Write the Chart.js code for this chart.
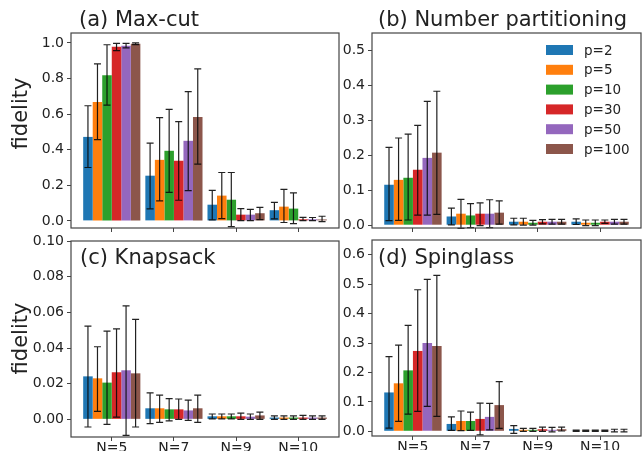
<!DOCTYPE html>
<html>
<head>
<meta charset="utf-8">
<script src="https://cdn.jsdelivr.net/npm/chart.js@4.4.1/dist/chart.umd.min.js"></script>
<style>
  html, body { margin: 0; padding: 0; background: #fff; }
  #fig { position: relative; width: 644px; height: 451px; }
  #fig canvas { position: absolute; left: 0; top: 0; }
</style>
</head>
<body>
<div id="fig">
  <canvas id="panelA" width="644" height="451"></canvas>
  <canvas id="panelB" width="644" height="451"></canvas>
  <canvas id="panelC" width="644" height="451"></canvas>
  <canvas id="panelD" width="644" height="451"></canvas>
</div>
<script>
const nLabels = ['N=5', 'N=7', 'N=9', 'N=10'];
const pLabels = ['p=2', 'p=5', 'p=10', 'p=30', 'p=50', 'p=100'];
const colors = ['#1f77b4', '#ff7f0e', '#2ca02c', '#d62728', '#9467bd', '#8c564b'];

// rows = p=2..p=100, columns = N=5, N=7, N=9, N=10
const maxcutMean = [
  [0.472, 0.254, 0.091, 0.060],
  [0.668, 0.343, 0.142, 0.080],
  [0.819, 0.394, 0.119, 0.069],
  [0.979, 0.338, 0.035, 0.009],
  [0.985, 0.450, 0.035, 0.009],
  [0.995, 0.584, 0.043, 0.008]
];
const maxcutLow = [
  [0.300, 0.067, 0.006, 0.011],
  [0.457, 0.112, 0.013, -0.009],
  [0.651, 0.160, -0.032, -0.015],
  [0.957, 0.116, 0.002, 0.002],
  [0.972, 0.170, 0.002, 0.002],
  [0.991, 0.319, 0.007, -0.004]
];
const maxcutHigh = [
  [0.647, 0.437, 0.172, 0.104],
  [0.882, 0.580, 0.272, 0.177],
  [0.990, 0.627, 0.272, 0.157],
  [0.998, 0.558, 0.069, 0.020],
  [0.998, 0.726, 0.065, 0.019],
  [1.000, 0.854, 0.076, 0.026]
];

const partitionMean = [
  [0.116, 0.025, 0.010, 0.010],
  [0.130, 0.033, 0.010, 0.007],
  [0.136, 0.028, 0.007, 0.007],
  [0.159, 0.033, 0.010, 0.010],
  [0.193, 0.033, 0.010, 0.010],
  [0.208, 0.036, 0.010, 0.010]
];
const partitionLow = [
  [0.013, 0.001, 0.001, 0.002],
  [0.014, -0.009, 0.000, -0.001],
  [0.015, -0.007, 0.000, -0.001],
  [0.029, -0.001, 0.004, 0.005],
  [0.029, -0.007, 0.003, 0.003],
  [0.031, 0.003, 0.003, 0.003]
];
const partitionHigh = [
  [0.223, 0.049, 0.020, 0.018],
  [0.250, 0.074, 0.020, 0.015],
  [0.261, 0.062, 0.014, 0.015],
  [0.286, 0.064, 0.016, 0.015],
  [0.355, 0.073, 0.017, 0.017],
  [0.384, 0.070, 0.017, 0.017]
];

const knapsackMean = [
  [0.0241, 0.0062, 0.0017, 0.0010],
  [0.0230, 0.0062, 0.0017, 0.0010],
  [0.0206, 0.0056, 0.0017, 0.0010],
  [0.0264, 0.0056, 0.0017, 0.0010],
  [0.0275, 0.0050, 0.0015, 0.0010],
  [0.0258, 0.0062, 0.0022, 0.0010]
];
const knapsackLow = [
  [-0.0043, -0.0024, 0.0003, 0.0000],
  [0.0045, -0.0017, 0.0003, 0.0000],
  [-0.0028, -0.0009, 0.0003, 0.0000],
  [0.0013, 0.0000, 0.0000, 0.0000],
  [-0.0090, -0.0006, 0.0000, 0.0000],
  [-0.0043, -0.0017, 0.0000, 0.0000]
];
const knapsackHigh = [
  [0.0523, 0.0148, 0.0030, 0.0020],
  [0.0407, 0.0136, 0.0030, 0.0020],
  [0.0495, 0.0116, 0.0030, 0.0020],
  [0.0507, 0.0114, 0.0035, 0.0022],
  [0.0636, 0.0108, 0.0030, 0.0020],
  [0.0560, 0.0136, 0.0040, 0.0020]
];

const spinglassMean = [
  [0.132, 0.025, 0.008, 0.002],
  [0.163, 0.035, 0.005, 0.002],
  [0.207, 0.035, 0.005, 0.002],
  [0.273, 0.042, 0.007, 0.002],
  [0.300, 0.049, 0.005, 0.002],
  [0.290, 0.089, 0.007, 0.002]
];
const spinglassLow = [
  [0.011, 0.003, -0.007, 0.000],
  [0.034, 0.002, 0.000, 0.000],
  [0.058, 0.003, 0.000, 0.000],
  [0.068, -0.012, 0.000, 0.000],
  [0.085, 0.005, -0.002, -0.002],
  [0.051, 0.010, 0.001, -0.002]
];
const spinglassHigh = [
  [0.254, 0.049, 0.019, 0.004],
  [0.293, 0.069, 0.010, 0.004],
  [0.360, 0.065, 0.010, 0.004],
  [0.481, 0.096, 0.014, 0.004],
  [0.516, 0.095, 0.013, 0.007],
  [0.530, 0.169, 0.014, 0.007]
];

const maxcutTicks = [0, 0.2, 0.4, 0.6, 0.8, 1.0];
const partitionTicks = [0, 0.1, 0.2, 0.3, 0.4, 0.5];
const knapsackTicks = [0, 0.02, 0.04, 0.06, 0.08, 0.10];
const spinglassTicks = [0, 0.1, 0.2, 0.3, 0.4, 0.5, 0.6];

Chart.defaults.font.family = "'DejaVu Sans', sans-serif";
Chart.defaults.color = '#222';

const FIG_W = 644, FIG_H = 451;
const inkColor = '#222';
const frameColor = '#444';

function makePanel(id, o) {
  const yW = o.yWidth;
  const xH = o.xLabels ? 14 : 4;

  const datasets = pLabels.map((p, i) => ({
    label: p,
    data: o.mean[i].map((v, j) => ({ x: j, y: v })),
    backgroundColor: colors[i],
    borderWidth: 0,
    categoryPercentage: 0.92,
    barPercentage: 1.0
  }));

  const errorBars = {
    id: 'errorBars',
    afterDatasetsDraw(chart) {
      const ctx = chart.ctx, ys = chart.scales.y;
      ctx.save();
      ctx.strokeStyle = 'rgba(10,10,10,0.9)';
      ctx.lineWidth = 1.2;
      chart.data.datasets.forEach((ds, i) => {
        chart.getDatasetMeta(i).data.forEach((bar, j) => {
          const top = ys.getPixelForValue(o.high[i][j]);
          const bot = ys.getPixelForValue(o.low[i][j]);
          ctx.beginPath();
          ctx.moveTo(bar.x, top); ctx.lineTo(bar.x, bot);
          ctx.moveTo(bar.x - 3.5, top); ctx.lineTo(bar.x + 3.5, top);
          ctx.moveTo(bar.x - 3.5, bot); ctx.lineTo(bar.x + 3.5, bot);
          ctx.stroke();
        });
      });
      ctx.restore();
    }
  };

  const frame = {
    id: 'frame',
    afterDraw(chart) {
      const a = chart.chartArea, ctx = chart.ctx;
      ctx.save();
      ctx.strokeStyle = frameColor;
      ctx.lineWidth = 1.2;
      ctx.strokeRect(a.left, a.top, a.right - a.left, a.bottom - a.top);
      ctx.restore();
    }
  };

  const texts = {
    id: 'texts',
    afterDraw(chart) {
      const ctx = chart.ctx;
      ctx.save();
      ctx.fillStyle = inkColor;
      o.texts.forEach(t => {
        ctx.save();
        ctx.font = t.size + "px 'DejaVu Sans', sans-serif";
        ctx.textAlign = t.align || 'left';
        ctx.textBaseline = t.baseline || 'alphabetic';
        ctx.translate(t.x, t.y);
        if (t.rotate) ctx.rotate(t.rotate);
        ctx.fillText(t.text, 0, 0);
        ctx.restore();
      });
      if (o.legend) {
        const L = o.legend;
        ctx.font = L.size + "px 'DejaVu Sans', sans-serif";
        ctx.textBaseline = 'middle';
        ctx.textAlign = 'left';
        chart.data.datasets.forEach((ds, i) => {
          const cy = L.y + i * L.step;
          ctx.fillStyle = ds.backgroundColor;
          ctx.fillRect(L.x, cy - 5, 27, 10);
          ctx.fillStyle = inkColor;
          ctx.fillText(ds.label, L.x + 38, cy + 1);
        });
      }
      ctx.restore();
    }
  };

  new Chart(document.getElementById(id), {
    type: 'bar',
    data: { datasets },
    options: {
      responsive: false,
      animation: false,
      layout: {
        padding: {
          left: o.area[0] - yW,
          top: o.area[1],
          right: FIG_W - o.area[2],
          bottom: FIG_H - o.area[3] - xH
        }
      },
      scales: {
        x: {
          type: 'linear',
          min: -0.656,
          max: 3.656,
          offset: false,
          afterBuildTicks: s => { s.ticks = nLabels.map((_, j) => ({ value: j })); },
          afterFit: s => { s.height = xH; },
          grid: { drawOnChartArea: false, offset: false, tickLength: 4, color: frameColor, tickWidth: 1 },
          border: { display: false },
          ticks: {
            display: o.xLabels,
            autoSkip: false,
            maxRotation: 0,
            padding: -1,
            color: inkColor,
            font: { size: 14 },
            callback: v => nLabels[v]
          }
        },
        y: {
          min: o.yMin,
          max: o.yMax,
          afterBuildTicks: s => { s.ticks = o.ticks.map(v => ({ value: v })); },
          afterFit: s => { s.width = yW; },
          grid: { drawOnChartArea: false, tickLength: 4, color: frameColor, tickWidth: 1 },
          border: { display: false },
          ticks: {
            padding: 3,
            color: inkColor,
            font: { size: 14 },
            callback: v => v.toFixed(o.decimals)
          }
        }
      },
      plugins: { legend: { display: false }, tooltip: { enabled: false } }
    },
    plugins: [errorBars, frame, texts]
  });
}

makePanel('panelA', {
  mean: maxcutMean, low: maxcutLow, high: maxcutHigh,
  area: [71, 33, 339, 228], yWidth: 71, xLabels: false,
  yMin: -0.04, yMax: 1.056, ticks: maxcutTicks, decimals: 1,
  texts: [
    { text: '(a) Max-cut', x: 79, y: 26, size: 21 },
    { text: 'fidelity', x: 22, y: 113.5, size: 21, rotate: -Math.PI / 2, align: 'center', baseline: 'middle' }
  ]
});

makePanel('panelB', {
  mean: partitionMean, low: partitionLow, high: partitionHigh,
  area: [372, 33, 641, 228], yWidth: 60, xLabels: false,
  yMin: -0.008, yMax: 0.551, ticks: partitionTicks, decimals: 1,
  texts: [
    { text: '(b) Number partitioning', x: 378, y: 26, size: 21 }
  ],
  legend: { x: 546, y: 50, step: 19.8, size: 13.5 }
});

makePanel('panelC', {
  mean: knapsackMean, low: knapsackLow, high: knapsackHigh,
  area: [71, 241, 339, 437], yWidth: 71, xLabels: true,
  yMin: -0.0099, yMax: 0.1, ticks: knapsackTicks, decimals: 2,
  texts: [
    { text: '(c) Knapsack', x: 80, y: 264, size: 21 },
    { text: 'fidelity', x: 22, y: 338.5, size: 21, rotate: -Math.PI / 2, align: 'center', baseline: 'middle' }
  ]
});

makePanel('panelD', {
  mean: spinglassMean, low: spinglassLow, high: spinglassHigh,
  area: [372, 240, 641, 436], yWidth: 60, xLabels: true,
  yMin: -0.016, yMax: 0.65, ticks: spinglassTicks, decimals: 1,
  texts: [
    { text: '(d) Spinglass', x: 378, y: 264, size: 21 }
  ]
});
</script>
</body>
</html>
